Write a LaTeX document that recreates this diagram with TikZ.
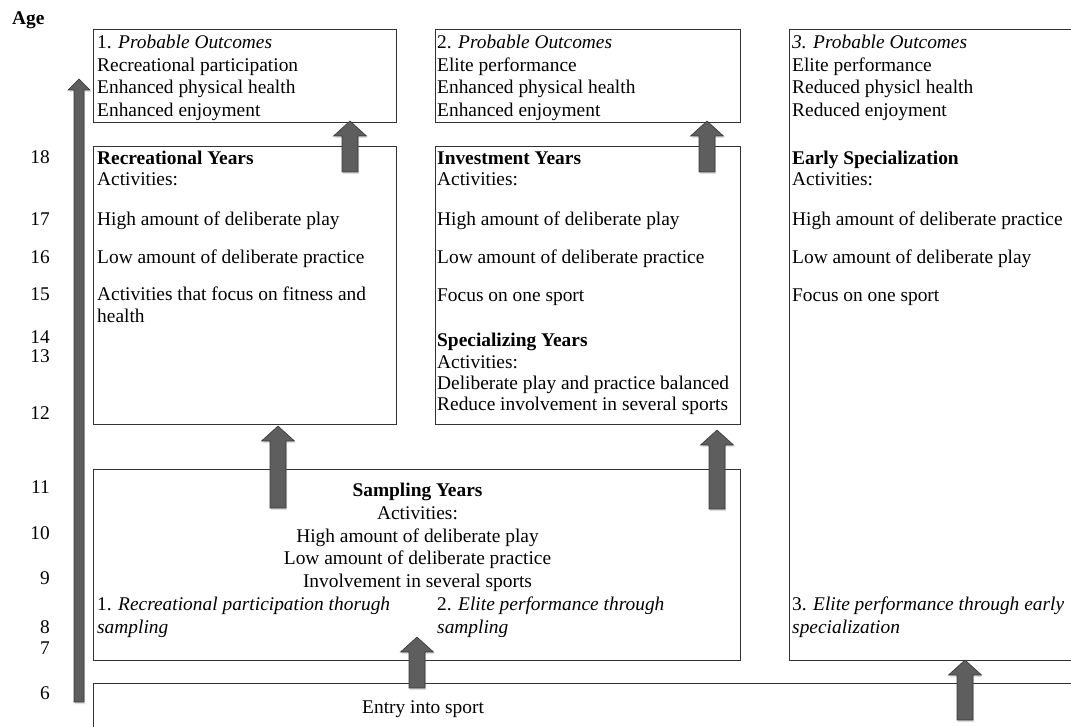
\documentclass[tikz,border=0pt]{standalone}
\usepackage{fontspec}
\setmainfont{Liberation Serif}
\usetikzlibrary{calc,shadows}
% block arrow: tail, tip, shaft half width, head half width, head length
\newcommand{\blockup}[5]{%
    \path[blockarr] ($(#1)+(-#3,0)$) -- ($(#2)+(-#3,#5)$) -- ($(#2)+(-#4,#5)$) -- (#2)
        -- ($(#2)+(#4,#5)$) -- ($(#2)+(#3,#5)$) -- ($(#1)+(#3,0)$) -- cycle;}
\tikzset{
    box/.style={draw=black!80, line width=1.1pt, inner sep=0pt, anchor=north west},
    txt/.style={anchor=base west, inner sep=0pt},
    ctxt/.style={anchor=base, inner sep=0pt},
    agelbl/.style={anchor=base east, inner sep=0pt},
    blockarr/.style={fill=black!63, draw=black!78, line width=0.6pt,
        drop shadow={opacity=0.25, shadow xshift=1pt, shadow yshift=-2pt}}
}
\begin{document}
\begin{tikzpicture}[x=1pt, y=-1pt, font=\fontsize{19.4}{22.5}\selectfont]
    \clip (0,0) rectangle (1071,727);
    %\draw[help lines, step=50] (0,0) grid (1071,727);
    % boxes
    \node[box, minimum width=303pt, minimum height=93pt] (out1) at (93,29) {};
    \node[box, minimum width=305pt, minimum height=93pt] (out2) at (435,29) {};
    \node[box, minimum width=330pt, minimum height=631pt] (early) at (789,29) {};
    \node[box, minimum width=303pt, minimum height=278pt] (recr) at (93,146) {};
    \node[box, minimum width=305pt, minimum height=278pt] (invest) at (435,146) {};
    \node[box, minimum width=647pt, minimum height=191pt] (sampl) at (93,469) {};
    \node[box, minimum width=1000pt, minimum height=80pt] (entry) at (93,683) {};
    % ages
    \node[txt, font=\fontsize{19.4}{22.5}\selectfont\bfseries] (age) at (12,25) {Age};
    \foreach \yy/\a [count=\i] in {164/18, 226/17, 264/16, 301/15, 343/14, 362/13, 419/12,
        493/11, 539/10, 584/9, 633/8, 654/7, 699/6} {
        \node[agelbl] (age\i) at (50,\yy) {\a};
    }
    % outcomes
    \foreach \yy/\tx [count=\i] in {49/{1. \textit{Probable Outcomes}}, 72/{Recreational participation},
        94/{Enhanced physical health}, 117/{Enhanced enjoyment}} {
        \node[txt] (oa\i) at (97,\yy) {\tx};
    }
    \foreach \yy/\tx [count=\i] in {49/{2. \textit{Probable Outcomes}}, 72/{Elite performance},
        94/{Enhanced physical health}, 117/{Enhanced enjoyment}} {
        \node[txt] (ob\i) at (437,\yy) {\tx};
    }
    \foreach \yy/\tx [count=\i] in {49/{\textit{3. Probable Outcomes}}, 72/{Elite performance},
        94/{Reduced physicl health}, 117/{Reduced enjoyment}, 165/{\textbf{Early Specialization}},
        186/{Activities:}, 226/{High amount of deliberate practice}, 264/{Low amount of deliberate play},
        302/{Focus on one sport}, 610/{3. \textit{Elite performance through early}},
        633/{\textit{specialization}}} {
        \node[txt] (oc\i) at (792,\yy) {\tx};
    }
    % recreational and investment years
    \foreach \yy/\tx [count=\i] in {165/{\textbf{Recreational Years}}, 186/{Activities:},
        226/{High amount of deliberate play}, 264/{Low amount of deliberate practice},
        301/{Activities that focus on fitness and}, 323/{health}} {
        \node[txt] (ra\i) at (97,\yy) {\tx};
    }
    \foreach \yy/\tx [count=\i] in {165/{\textbf{Investment Years}}, 186/{Activities:},
        226/{High amount of deliberate play}, 264/{Low amount of deliberate practice},
        302/{Focus on one sport}, 347/{\textbf{Specializing Years}}, 368/{Activities:},
        389/{Deliberate play and practice balanced}, 410/{Reduce involvement in several sports}} {
        \node[txt] (ia\i) at (437,\yy) {\tx};
    }
    % sampling years
    \foreach \yy/\tx [count=\i] in {496/{\textbf{Sampling Years}}, 519/{Activities:},
        542/{High amount of deliberate play}, 564/{Low amount of deliberate practice},
        587/{Involvement in several sports}} {
        \node[ctxt] (sa\i) at (417.5,\yy) {\tx};
    }
    \node[txt] (sr1) at (97,610) {1. \textit{Recreational participation thorugh}};
    \node[txt] (sr2) at (97,633) {\textit{sampling}};
    \node[txt] (se1) at (437,610) {2. \textit{Elite performance through}};
    \node[txt] (se2) at (437,633) {\textit{sampling}};
    \node[txt] (ent) at (362,713) {Entry into sport};
    % arrows
    \coordinate (tage) at (79,79);   \coordinate (sage) at (79,702);
    \coordinate (t1) at (350,121);  \coordinate (s1) at (350,172);
    \coordinate (t2) at (707,121);  \coordinate (s2) at (707,172);
    \coordinate (t3) at (278,426);  \coordinate (s3) at (278,508);
    \coordinate (t4) at (717,430);  \coordinate (s4) at (717,509);
    \coordinate (t5) at (417,637);  \coordinate (s5) at (417,688);
    \coordinate (t6) at (965,660);  \coordinate (s6) at (965,720);
    \blockup{sage}{tage}{5}{11}{11}
    \foreach \k in {1,...,6} {
        \blockup{s\k}{t\k}{8}{16.5}{15}
    }
\end{tikzpicture}
\end{document}
